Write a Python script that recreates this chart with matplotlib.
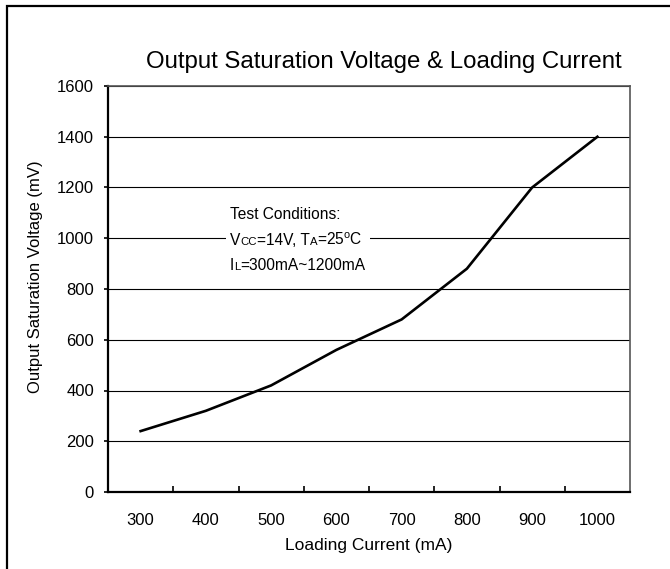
import matplotlib
matplotlib.use("Agg")
import matplotlib.pyplot as plt
from matplotlib.patches import Rectangle
from matplotlib.offsetbox import TextArea, HPacker, VPacker, AnnotationBbox

plt.rcParams['font.family'] = ['Liberation Sans', 'DejaVu Sans']
plt.rcParams['mathtext.fontset'] = 'custom'
plt.rcParams['mathtext.rm'] = 'Liberation Sans'

currents = [300, 400, 500, 600, 700, 800, 900, 1000]
voltages = [240, 320, 420, 560, 680, 880, 1200, 1400]
yticks = [0, 200, 400, 600, 800, 1000, 1200, 1400, 1600]
title = "Output Saturation Voltage & Loading Current"
xlabel = "Loading Current (mA)"
ylabel = "Output Saturation Voltage (mV)"

W, H = 670, 569
fig = plt.figure(figsize=(W / 100, H / 100), dpi=100)
ax = fig.add_axes([108 / W, 1 - 492 / H, (630 - 108) / W, (492 - 86) / H])

pos = list(range(len(currents)))
ax.plot(pos, voltages, color='black', lw=1.9, solid_joinstyle='miter', zorder=3)

ax.set_xlim(-0.5, len(currents) - 0.5)
ax.set_ylim(yticks[0], yticks[-1])
ax.set_yticks(yticks)
ax.set_xticks(pos)
ax.set_xticklabels([str(c) for c in currents])
ax.set_xticks([p + 0.5 for p in pos[:-1]], minor=True)
ax.tick_params(axis='x', which='major', length=0, pad=15, labelsize=12)
ax.tick_params(axis='x', which='minor', direction='in', length=4, width=1.2)
ax.tick_params(axis='y', direction='out', length=3, width=1.2, pad=7, labelsize=12)

ax.grid(axis='y', color='black', lw=0.8, zorder=1)
ax.set_axisbelow(True)
for s in ['left', 'bottom']:
    ax.spines[s].set_linewidth(1.6)
    ax.spines[s].set_color('black')
for s in ['top', 'right']:
    ax.spines[s].set_linewidth(1.2)
    ax.spines[s].set_color('#555555')

ax.set_xlabel(xlabel, fontsize=12.5, labelpad=7)
ax.set_ylabel(ylabel, fontsize=12)
ax.yaxis.set_label_coords(-0.124, 0.531)

fig.text(384 / W, 1 - 68 / H, title, fontsize=17.3, ha='center', va='baseline')

# annotation box
big = dict(fontsize=11.2, color='black')
small = dict(fontsize=8.2, color='black')
line1 = TextArea("Test Conditions:", textprops=big)
line2 = HPacker(children=[TextArea("V", textprops=big), TextArea("CC", textprops=small),
                          TextArea("=14V, T", textprops=big), TextArea("A", textprops=small),
                          TextArea(r"=25$^{\mathregular{o}}$C", textprops=big)],
                align="baseline", pad=0, sep=0)
line3 = HPacker(children=[TextArea("I", textprops=big), TextArea("L", textprops=small),
                          TextArea("=300mA~1200mA", textprops=big)],
                align="baseline", pad=0, sep=0)
box = VPacker(children=[line1, line2, line3], align="left", pad=0, sep=7)
ab = AnnotationBbox(box, (230 / W, 1 - 207 / H), xycoords='figure fraction',
                    box_alignment=(0, 1), frameon=True, pad=0.3,
                    bboxprops=dict(facecolor='white', edgecolor='none'))
ab.set_zorder(4)
ax.add_artist(ab)

# outer border (left and top visible)
fig.patches.append(Rectangle((7 / W, -0.2), 1.5, 1 - 6 / H + 0.2, transform=fig.transFigure,
                             fill=False, edgecolor='black', lw=1.6))

fig.savefig("out.png", dpi=100)
